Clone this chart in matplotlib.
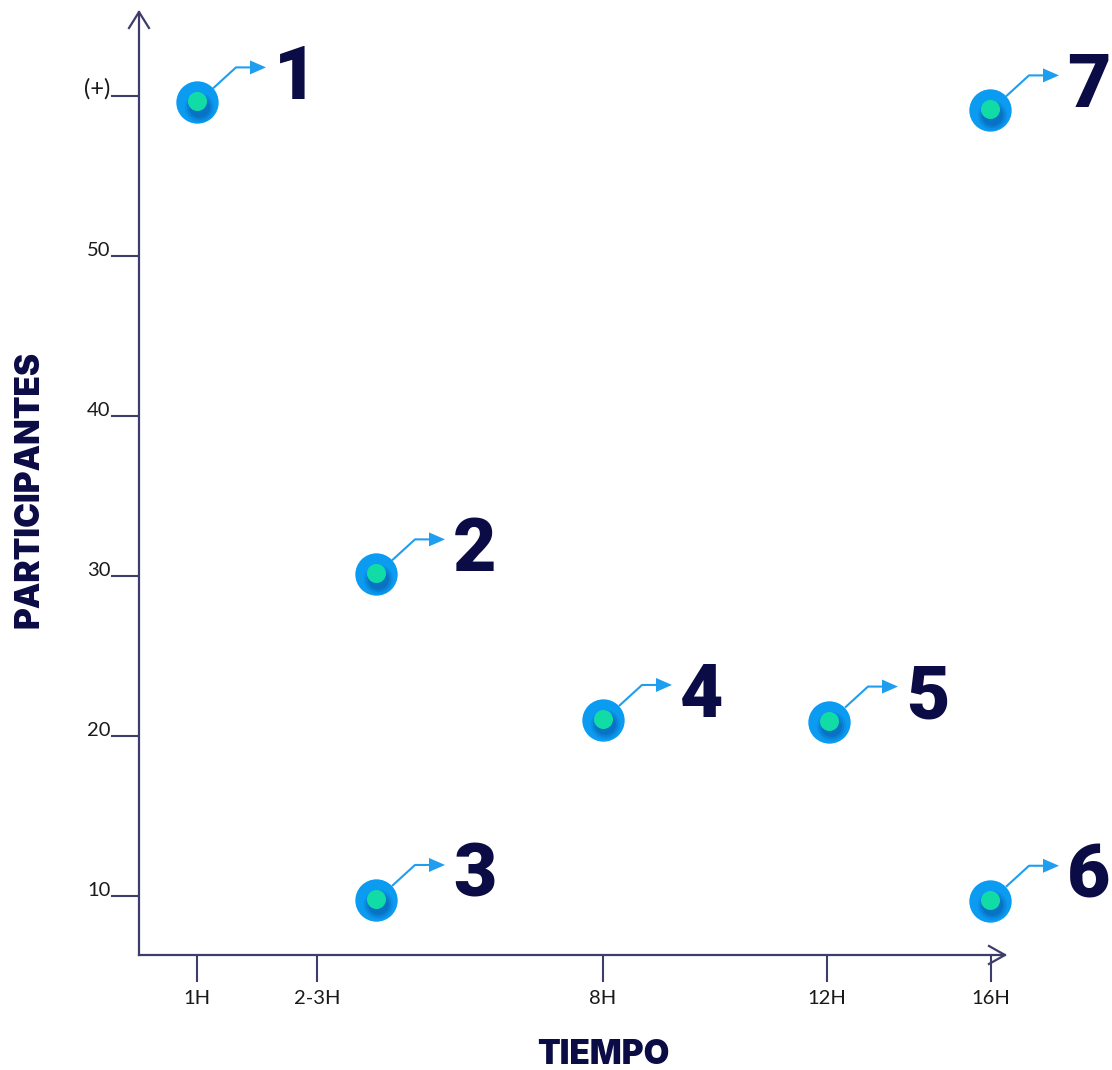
import matplotlib
matplotlib.use("Agg")
import matplotlib.pyplot as plt
from matplotlib.transforms import Affine2D, ScaledTranslation

# ---- data ----
point_labels = ["1", "2", "3", "4", "5", "6", "7"]
point_x = [0.58, 2.37, 2.37, 4.64, 6.90, 8.51, 8.51]      # position along TIEMPO axis
point_y = [59.6, 30.1, 9.75, 21.0, 20.9, 9.7, 59.1]        # participantes
x_tick_pos = [0.58, 1.78, 4.64, 6.88, 8.52]
x_tick_labels = ["1H", "2-3H", "8H", "12H", "16H"]
y_tick_pos = [10, 20, 30, 40, 50, 60]
y_tick_labels = ["10", "20", "30", "40", "50", "(+)"]

W, H = 1112, 1070
fig = plt.figure(figsize=(W / 100, H / 100), dpi=100)
fig.patch.set_facecolor("white")

ax_left, ax_right, ax_bottom, ax_top = 139, 1005, 955, 12
ax = fig.add_axes([ax_left / W, 1 - ax_bottom / H, (ax_right - ax_left) / W, (ax_bottom - ax_top) / H])
ax.set_xlim(0, 8.66)
ax.set_ylim(6.31, 65.25)
ax.set_facecolor("none")

axis_col = "#3d3d6b"
navy = "#0b0b45"
blue = "#0b9cf2"
line_blue = "#1f9ef0"
green = "#12dca6"

for s in ["top", "right"]:
    ax.spines[s].set_visible(False)
for s in ["left", "bottom"]:
    ax.spines[s].set_color(axis_col)
    ax.spines[s].set_linewidth(1.6)

ax.set_xticks(x_tick_pos)
ax.set_xticklabels(x_tick_labels)
ax.set_yticks(y_tick_pos)
ax.set_yticklabels(y_tick_labels)
ax.tick_params(axis="x", direction="out", length=19.5, width=1.5, color=axis_col,
               pad=6, labelsize=14.5, labelcolor="#1a1a1a")
ax.tick_params(axis="y", direction="out", length=20, width=1.5, color=axis_col,
               pad=0.5, labelsize=14.5, labelcolor="#1a1a1a")
for lab in ax.get_yticklabels():
    lab.set_verticalalignment("baseline")
for lab in ax.get_xticklabels() + ax.get_yticklabels():
    lab.set_fontfamily(["Lato", "DejaVu Sans"])
ax.get_yticklabels()[-1].set_fontsize(17)

# axis arrowheads (open chevrons) in pixel offsets from axis ends
top_tr = Affine2D().scale(1, -1) + ScaledTranslation(0, 1, ax.transAxes)
ax.plot([-10, 0, 10], [16, 0, 16], color=axis_col, lw=1.6, transform=top_tr, clip_on=False)
right_tr = Affine2D().scale(1, -1) + ScaledTranslation(1, 0, ax.transAxes)
ax.plot([-16, 0, -16], [-9, 0, 9], color=axis_col, lw=1.6, transform=right_tr, clip_on=False)

# points
for lbl, x, y in zip(point_labels, point_x, point_y):
    base = ScaledTranslation(x, y, ax.transData)
    pix = Affine2D().scale(1, -1) + base  # pixel offsets, y downwards
    # outer blue disk
    ax.plot([0], [0], "o", ms=30.5, color=blue, mec="none", transform=pix, clip_on=False, zorder=3)
    # soft shadow under green dot
    for ms, a in [(21, 0.18), (18, 0.25), (15, 0.35)]:
        ax.plot([1.5], [4.5], "o", ms=ms, color="#0758a8", mec="none", alpha=a,
                transform=pix, clip_on=False, zorder=4)
    # green dot
    ax.plot([0], [-1], "o", ms=13.7, color=green, mec="none", transform=pix, clip_on=False, zorder=5)
    # connector line and arrow
    ax.plot([16, 39, 54], [-14, -35, -35], color=line_blue, lw=1.5, transform=pix,
            clip_on=False, zorder=4, solid_capstyle="butt")
    ax.fill([53, 69, 53], [-42, -35, -28], color=line_blue, transform=pix, clip_on=False, zorder=4, lw=0)
    # number label
    ax.text(77, -3, lbl, transform=pix, ha="left", va="baseline", fontsize=54,
            fontweight="black", family=["Roboto", "DejaVu Sans"], color=navy, clip_on=False, zorder=5)

# axis titles
fig.text(30 / W, 1 - 489 / H, "PARTICIPANTES", rotation=90, ha="center", va="center",
         fontsize=24, fontweight="black", family=["Inter", "DejaVu Sans"], color=navy)
fig.text(603 / W, 1 - 1055 / H, "TIEMPO", ha="center", va="center",
         fontsize=24, fontweight="black", family=["Inter", "DejaVu Sans"], color=navy)

fig.savefig("out.png", dpi=100, facecolor="white")
